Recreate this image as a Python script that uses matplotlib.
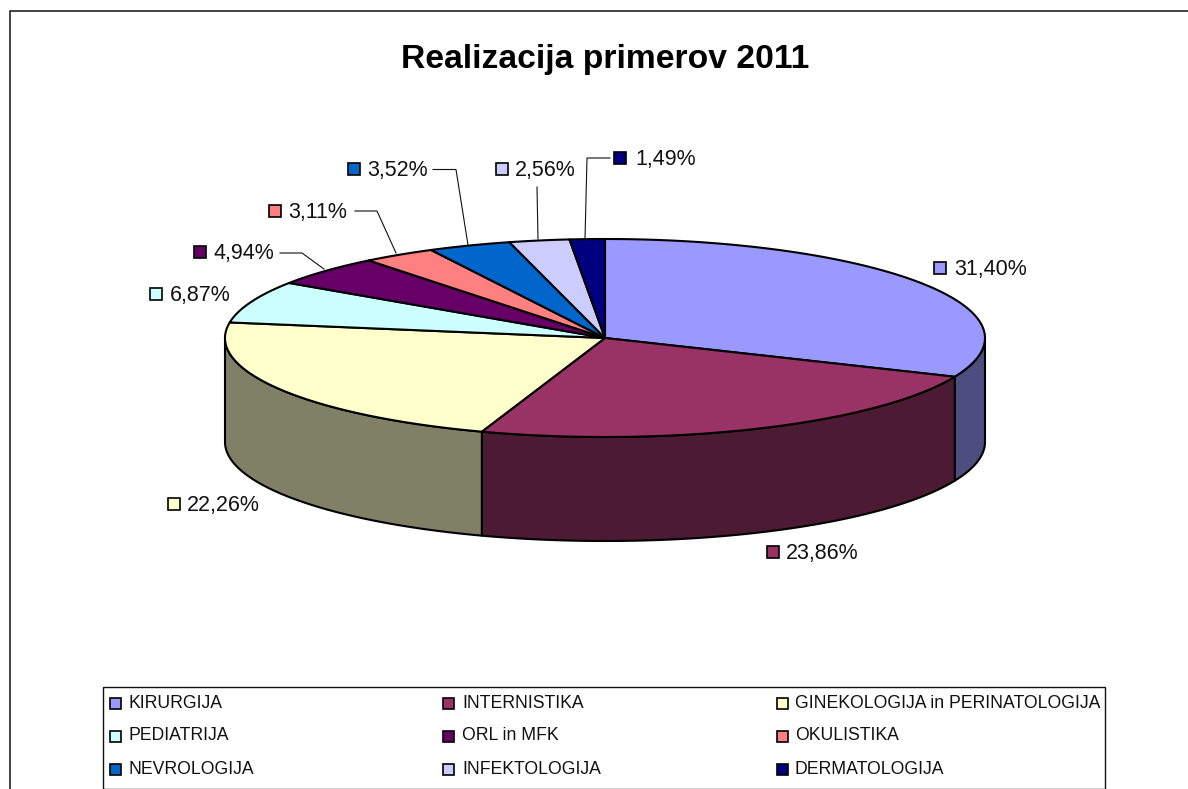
import numpy as np
import matplotlib
matplotlib.use("Agg")
import matplotlib.pyplot as plt
from matplotlib.patches import Polygon, Rectangle

title = "Realizacija primerov 2011"
categories = ["KIRURGIJA", "INTERNISTIKA", "GINEKOLOGIJA in PERINATOLOGIJA",
              "PEDIATRIJA", "ORL in MFK", "OKULISTIKA",
              "NEVROLOGIJA", "INFEKTOLOGIJA", "DERMATOLOGIJA"]
values = [31.40, 23.86, 22.26, 6.87, 4.94, 3.11, 3.52, 2.56, 1.49]
colors = ["#9999FF", "#993366", "#FFFFCC", "#CCFFFF", "#660066",
          "#FF8080", "#0066CC", "#CCCCFF", "#000080"]

plt.rcParams['font.family'] = ['Liberation Sans', 'DejaVu Sans']
fig = plt.figure(figsize=(11.88, 7.89), dpi=100)
ax = fig.add_axes([0, 0, 1, 1])
ax.set_xlim(0, 1188)
ax.set_ylim(789, 0)
ax.axis('off')

INK = "#111111"
# chart frame
ax.plot([10, 10, 1188], [789, 10.8, 10.8], color=INK, lw=1.1, solid_capstyle='butt')
ax.text(605, 59, title, ha='center', va='center', fontsize=24.2, fontweight='bold', color='black')

# pie geometry
cx, cy, rx, ry, depth = 605, 338, 380, 99, 104


def ell(t):
    t = np.radians(t)
    return cx + rx * np.sin(t), cy - ry * np.cos(t)


def darker(c):
    r, g, b = matplotlib.colors.to_rgb(c)
    return (r * .5, g * .5, b * .5)


edges = np.concatenate([[0], np.cumsum(values)]) / sum(values) * 360
# side walls (front half only)
for a, b, c in zip(edges[:-1], edges[1:], colors):
    lo, hi = max(a, 90), min(b, 270)
    if hi <= lo:
        continue
    x, y = ell(np.linspace(lo, hi, 80))
    px = np.concatenate([x, x[::-1]])
    py = np.concatenate([y, y[::-1] + depth])
    ax.add_patch(Polygon(np.c_[px, py], closed=True, fc=darker(c), ec='black', lw=1.5, joinstyle='round'))
# top faces
for a, b, c in zip(edges[:-1], edges[1:], colors):
    x, y = ell(np.linspace(a, b, 120))
    ax.add_patch(Polygon(np.c_[np.r_[cx, x], np.r_[cy, y]], closed=True, fc=c, ec='black', lw=1.5, joinstyle='round'))

# data labels: key square left edge, text left edge, y centre
label_pos = [(934, 954, 268), (767, 786, 552), (168, 187, 504), (150, 170, 294),
             (194, 213, 252), (269, 288, 211), (348, 367, 169), (496, 515, 169), (614, 635, 158)]
for v, c, (sx, tx, ty) in zip(values, colors, label_pos):
    ax.add_patch(Rectangle((sx, ty - 6), 12, 12, fc=c, ec='black', lw=1.2))
    ax.text(tx, ty + 1.2, f"{v:.2f}".replace('.', ',') + '%', ha='left', va='center', fontsize=15.5, color='#111111')

# leader lines
leaders = [([280, 302, 324], [253, 253, 269]),
           ([355, 377, 396], [211, 211, 253]),
           ([433, 456, 468], [169.5, 169.5, 245]),
           ([537, 538], [187, 239]),
           ([610, 587, 585], [158, 158, 239])]
for lx, ly in leaders:
    ax.plot(lx, ly, color='#111111', lw=0.8, solid_joinstyle='miter')

# legend
ax.add_patch(Rectangle((103, 686.5), 1002, 102, fc='white', ec=INK, lw=1.0))
col_sq = [110, 443, 777]
col_tx = [128, 462, 795]
row_y = [703, 736, 769]
for i, (name, c) in enumerate(zip(categories, colors)):
    r, k = divmod(i, 3)
    ax.add_patch(Rectangle((col_sq[k], row_y[r] - 5.5), 11, 11, fc=c, ec='black', lw=1.2))
    ax.text(col_tx[k], row_y[r], name, ha='left', va='center', fontsize=12.7, color='#111111')

fig.savefig("out.png", dpi=100, facecolor='white')
